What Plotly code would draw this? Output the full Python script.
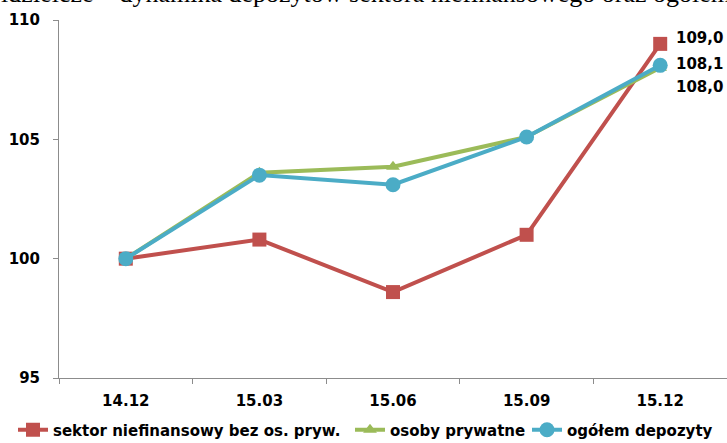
import plotly.graph_objects as go

# Quarter labels and index values (14.12 = 100)
quarters = ["14.12", "15.03", "15.06", "15.09", "15.12"]
sektor_niefin = [100.0, 100.8, 98.6, 101.0, 109.0]
osoby_prywatne = [100.0, 103.6, 103.85, 105.1, 108.0]
ogolem = [100.0, 103.5, 103.1, 105.1, 108.1]

RED = "#C0504D"
GREEN = "#9BBB59"
BLUE = "#4BACC6"
FONT = "DejaVu Sans"
LABEL_FONT = dict(family=FONT, size=15, color="black", weight="bold")


def fmt(v):
    return f"{v:.1f}".replace(".", ",")


fig = go.Figure()
fig.add_trace(go.Scatter(
    x=quarters, y=sektor_niefin, name="sektor niefinansowy bez os. pryw.",
    mode="lines+markers", line=dict(color=RED, width=4),
    marker=dict(symbol="square", size=14, color=RED), legend="legend"))
fig.add_trace(go.Scatter(
    x=quarters, y=osoby_prywatne, name="osoby prywatne",
    mode="lines+markers", line=dict(color=GREEN, width=4),
    marker=dict(symbol="triangle-up", size=12, color=GREEN), legend="legend2"))
fig.add_trace(go.Scatter(
    x=quarters, y=ogolem, name="ogółem depozyty",
    mode="lines+markers", line=dict(color=BLUE, width=4),
    marker=dict(symbol="circle", size=15, color=BLUE), legend="legend3"))

# value labels beside the final quarter (category index, since the
# quarter names look numeric)
last_idx = len(quarters) - 1
for series, yshift in ((sektor_niefin, 6), (ogolem, 1), (osoby_prywatne, -19)):
    fig.add_annotation(
        x=last_idx, y=series[-1], xref="x", yref="y", text=fmt(series[-1]),
        showarrow=False, xanchor="left", yanchor="middle", xshift=14, yshift=yshift,
        font=LABEL_FONT)

# heading line running above the chart (partly above the page top)
fig.add_annotation(
    x=0, y=1, xref="paper", yref="paper", xanchor="left", yanchor="bottom",
    xshift=-96, yshift=10, showarrow=False,
    text="spółdzielcze – dynamika depozytów sektora niefinansowego oraz ogółem",
    font=dict(family="Liberation Serif", size=26, color="black"))

legend_style = dict(orientation="h", xref="container", yref="container",
                    xanchor="left", y=13 / 443, yanchor="middle",
                    font=dict(family=FONT, size=15, color="black", weight="bold"),
                    itemwidth=30, bgcolor="rgba(0,0,0,0)")

fig.update_layout(
    width=727, height=443,
    margin=dict(l=59, r=0, t=20, b=65),
    paper_bgcolor="white", plot_bgcolor="white",
    showlegend=True,
    legend=dict(legend_style, x=13 / 727),
    legend2=dict(legend_style, x=350 / 727),
    legend3=dict(legend_style, x=527 / 727),
    xaxis=dict(type="category", range=[-0.5, 4.5], showgrid=False,
               showline=True, linecolor="#8c8c8c", linewidth=1,
               ticks="outside", tickson="boundaries", ticklen=5, tickcolor="#8c8c8c",
               tickfont=dict(family=FONT, size=15, color="black", weight="bold"),
               ticklabelstandoff=9),
    yaxis=dict(range=[95, 110], tickvals=[95, 100, 105, 110], showgrid=False,
               zeroline=False, showline=True, linecolor="#8c8c8c", linewidth=1,
               ticks="outside", ticklen=5, tickcolor="#8c8c8c",
               tickfont=dict(family=FONT, size=15, color="black", weight="bold"),
               ticklabelstandoff=10),
)

fig.write_html("out.html")
